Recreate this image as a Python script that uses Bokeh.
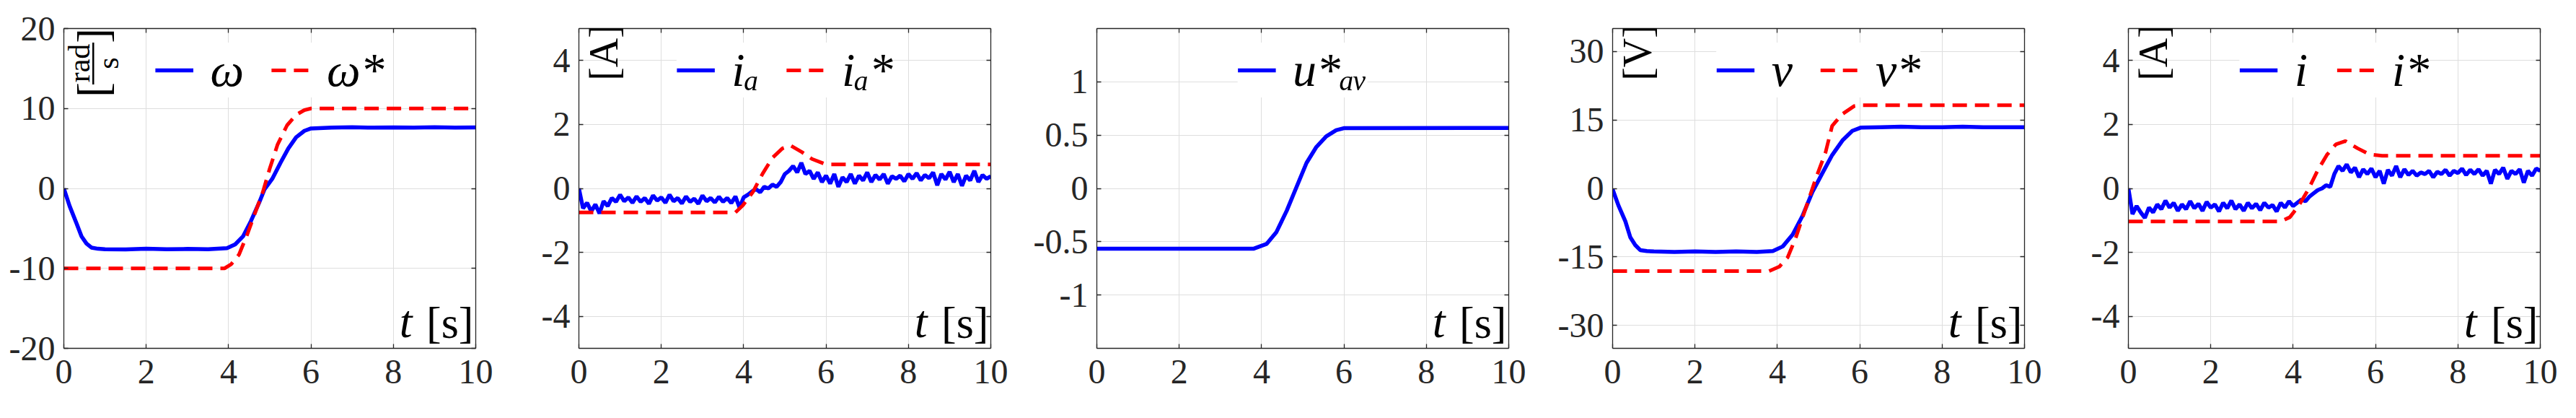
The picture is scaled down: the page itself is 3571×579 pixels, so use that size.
from bokeh.plotting import figure
from bokeh.layouts import row
from bokeh.models import (FixedTicker, LinearAxis, Range1d, Legend, LegendItem,
                          Label, BoxAnnotation)
from bokeh.embed import file_html
from bokeh.resources import INLINE

# ---------------- data ----------------
x_ticks = [0, 2, 4, 6, 8, 10]

# panel 1: omega [rad/s]
t_w = [0, 0.14, 0.31, 0.43, 0.55, 0.67, 0.83, 1.0, 1.5, 2.0, 2.5, 3.0, 3.5, 3.96, 4.16, 4.35,
       4.54, 4.74, 4.87, 5.06, 5.26, 5.45, 5.64, 5.84, 6.0, 6.5, 7.0, 7.5, 8.0, 8.5, 9.0, 9.5, 10.0]
w = [0, -2.2, -4.4, -6.0, -6.9, -7.4, -7.55, -7.6, -7.62, -7.55, -7.6, -7.57, -7.6, -7.47, -7.0, -6.0,
     -4.1, -1.8, -0.13, 1.2, 3.2, 5.0, 6.4, 7.2, 7.5, 7.6, 7.65, 7.6, 7.62, 7.6, 7.65, 7.6, 7.62]
t_wr = [0, 3.9, 4.06, 4.25, 4.45, 4.64, 4.83, 5.0, 5.19, 5.42, 5.64, 5.84, 6.0, 10]
wr = [-10, -10, -9.5, -8.3, -5.8, -3.1, -0.47, 2.5, 5.5, 7.9, 9.2, 9.8, 10, 10]

# panel 2: i_a [A]
t_ia = [round(0.1 * k, 1) for k in range(101)]
ia = [0.0, -0.62, -0.45, -0.72, -0.50, -0.78, -0.40, -0.55, -0.30, -0.42,
      -0.20, -0.40, -0.28, -0.45, -0.25, -0.42, -0.30, -0.48, -0.22, -0.38,
      -0.28, -0.45, -0.20, -0.40, -0.30, -0.47, -0.25, -0.42, -0.32, -0.48,
      -0.22, -0.40, -0.30, -0.44, -0.26, -0.42, -0.30, -0.46, -0.25, -0.60,
      -0.28, -0.20, -0.10, -0.02, -0.12, 0.05, 0.00, 0.12, 0.05, 0.20,
      0.45, 0.55, 0.70, 0.50, 0.80, 0.45, 0.55, 0.30, 0.50, 0.20,
      0.40, 0.15, 0.45, 0.05, 0.35, 0.20, 0.45, 0.15, 0.40, 0.25,
      0.50, 0.20, 0.42, 0.28, 0.45, 0.15, 0.38, 0.30, 0.40, 0.22,
      0.45, 0.30, 0.48, 0.25, 0.42, 0.32, 0.50, 0.10, 0.45, 0.28,
      0.52, 0.20, 0.45, 0.08, 0.40, 0.25, 0.55, 0.20, 0.42, 0.30, 0.38]
t_iar = [0, 3.8, 3.98, 4.22, 4.46, 4.7, 4.94, 5.14, 5.42, 5.66, 5.94, 6.1, 10]
iar = [-0.75, -0.75, -0.53, -0.12, 0.46, 0.96, 1.25, 1.34, 1.13, 0.92, 0.78, 0.75, 0.75]

# panel 3: u*_av
t_u = [0, 3.8, 4.12, 4.36, 4.61, 4.85, 5.09, 5.33, 5.57, 5.81, 6.01, 10]
u = [-0.566, -0.566, -0.521, -0.409, -0.209, 0.015, 0.239, 0.389, 0.489, 0.546, 0.566, 0.568]

# panel 4: v [V]
t_v = [0, 0.14, 0.31, 0.43, 0.55, 0.67, 0.83, 1.0, 1.5, 2.0, 2.5, 3.0, 3.5, 3.89, 4.13, 4.37,
       4.61, 4.85, 5.09, 5.33, 5.58, 5.82, 6.02, 6.5, 7.0, 7.5, 8.0, 8.5, 9.0, 9.5, 10.0]
v = [-0.2, -3.7, -7.2, -10.7, -12.4, -13.5, -13.7, -13.8, -13.9, -13.8, -13.9, -13.8, -13.9, -13.7, -12.7, -10.1,
     -6.0, -0.8, 3.3, 7.3, 10.5, 12.6, 13.3, 13.4, 13.5, 13.4, 13.4, 13.5, 13.4, 13.4, 13.4]
t_vr = [0, 3.8, 4.05, 4.25, 4.45, 4.69, 4.93, 5.17, 5.33, 5.58, 5.86, 6.0, 10]
vr = [-18.1, -18.1, -17.1, -15.1, -10.7, -4.3, 2.1, 7.9, 13.7, 16.3, 18.0, 18.2, 18.2]

# panel 5: i [A]
t_i = [round(0.1 * k, 1) for k in range(101)]
i_m = [0.0, -0.80, -0.55, -0.75, -0.92, -0.60, -0.75, -0.50, -0.65, -0.38,
       -0.60, -0.45, -0.70, -0.50, -0.65, -0.40, -0.62, -0.48, -0.70, -0.42,
       -0.60, -0.50, -0.72, -0.45, -0.62, -0.38, -0.65, -0.50, -0.70, -0.45,
       -0.62, -0.48, -0.68, -0.45, -0.60, -0.52, -0.72, -0.45, -0.60, -0.40,
       -0.55, -0.45, -0.35, -0.40, -0.25, -0.15, -0.05, 0.00, 0.10, 0.05,
       0.45, 0.70, 0.55, 0.75, 0.50, 0.65, 0.35, 0.60, 0.45, 0.62,
       0.35, 0.55, 0.15, 0.58, 0.40, 0.70, 0.35, 0.60, 0.42, 0.55,
       0.40, 0.50, 0.45, 0.55, 0.35, 0.52, 0.45, 0.58, 0.40, 0.55,
       0.48, 0.62, 0.42, 0.58, 0.45, 0.60, 0.40, 0.55, 0.15, 0.58,
       0.45, 0.65, 0.30, 0.55, 0.45, 0.60, 0.18, 0.55, 0.40, 0.62, 0.55]
t_ir = [0, 3.7, 3.92, 4.14, 4.37, 4.59, 4.82, 5.04, 5.27, 5.57, 5.86, 6.16, 10]
i_r = [-1.03, -1.03, -0.9, -0.53, -0.03, 0.55, 1.05, 1.38, 1.48, 1.25, 1.06, 1.02, 1.02]

panels = [
    dict(yr=(-20, 20), yt=[-20, -10, 0, 10, 20], yl=["-20", "-10", "0", "10", "20"],
         meas=(t_w, w, "ω"), ref=(t_wr, wr, "ω*"), unit="rad/s", L=88, R=55),
    dict(yr=(-5, 5), yt=[-4, -2, 0, 2, 4], yl=["-4", "-2", "0", "2", "4"],
         meas=(t_ia, ia, "iₐ"), ref=(t_iar, iar, "iₐ*"), unit="[A]", L=88, R=56),
    dict(yr=(-1.5, 1.5), yt=[-1, -0.5, 0, 0.5, 1], yl=["-1", "-0.5", "0", "0.5", "1"],
         meas=(t_u, u, "u*ₐᵥ"), ref=None, unit=None, L=88, R=56),
    dict(yr=(-35, 35), yt=[-30, -15, 0, 15, 30], yl=["-30", "-15", "0", "15", "30"],
         meas=(t_v, v, "v"), ref=(t_vr, vr, "v*"), unit="[V]", L=88, R=56),
    dict(yr=(-5, 5), yt=[-4, -2, 0, 2, 4], yl=["-4", "-2", "0", "2", "4"],
         meas=(t_i, i_m, "i"), ref=(t_ir, i_r, "i*"), unit="[A]", L=88, R=30),
]

FW, FH = 571, 443
FONT = "Liberation Serif"
AX = "#262626"


def make_panel(cfg):
    y0, y1 = cfg["yr"]
    p = figure(frame_width=FW, frame_height=FH, x_range=Range1d(0, 10), y_range=Range1d(y0, y1),
               output_backend="svg", toolbar_location=None,
               min_border_left=cfg["L"], min_border_right=cfg["R"],
               min_border_top=39, min_border_bottom=80,
               background_fill_color="white", border_fill_color="white")
    p.outline_line_color = None

    def px2x(dx):
        return dx / FW * 10.0

    def py2y(dy):
        return y1 - dy / FH * (y1 - y0)

    overrides = {tk: lab for tk, lab in zip(cfg["yt"], cfg["yl"])}
    for ax in p.xaxis:
        ax.ticker = FixedTicker(ticks=x_ticks)
    for ax in p.yaxis:
        ax.ticker = FixedTicker(ticks=cfg["yt"])
        ax.major_label_overrides = overrides
    for ax in list(p.xaxis) + list(p.yaxis):
        ax.major_tick_in = 6
        ax.major_tick_out = 0
        ax.minor_tick_line_color = None
        ax.axis_line_color = AX
        ax.axis_line_width = 1.3
        ax.major_tick_line_color = AX
        ax.major_tick_line_width = 1.3
        ax.major_label_text_font = FONT
        ax.major_label_text_font_size = "48px"
        ax.major_label_text_color = AX
    p.xaxis.major_label_standoff = 16
    p.yaxis.major_label_standoff = 12

    top = LinearAxis(ticker=FixedTicker(ticks=x_ticks), major_tick_in=6, major_tick_out=0,
                     minor_tick_line_color=None, axis_line_color=AX, axis_line_width=1.3,
                     major_tick_line_color=AX, major_tick_line_width=1.3,
                     major_label_text_color=None, major_label_standoff=0)
    right = LinearAxis(ticker=FixedTicker(ticks=cfg["yt"]), major_tick_in=6, major_tick_out=0,
                       minor_tick_line_color=None, axis_line_color=AX, axis_line_width=1.3,
                       major_tick_line_color=AX, major_tick_line_width=1.3,
                       major_label_text_color=None, major_label_standoff=0)
    p.add_layout(top, "above")
    p.add_layout(right, "right")

    p.xgrid.ticker = FixedTicker(ticks=x_ticks)
    p.ygrid.ticker = FixedTicker(ticks=cfg["yt"])
    p.grid.grid_line_color = "#dedede"
    p.grid.grid_line_width = 1

    items = []
    mt, mv, ml = cfg["meas"]
    rm = p.line(mt, mv, line_color="#0000ff", line_width=5.5)
    items.append(LegendItem(label=ml, renderers=[rm]))
    if cfg["ref"] is not None:
        rt, rv, rl = cfg["ref"]
        rr = p.line(rt, rv, line_color="#ff0000", line_width=5, line_dash="20 11")
        items.append(LegendItem(label=rl, renderers=[rr]))

    leg = Legend(items=items, location="top_center", orientation="horizontal",
                 background_fill_color="white", background_fill_alpha=1.0,
                 border_line_color=None, margin=20, padding=6, spacing=38,
                 glyph_width=53, glyph_height=40, label_standoff=24, label_height=40,
                 label_text_font=FONT, label_text_font_style="italic",
                 label_text_font_size="66px", label_text_color="black")
    p.add_layout(leg)

    # time label
    p.add_layout(Label(x=px2x(FW - 3), y=py2y(FH - 2), text="[s]", text_align="right",
                       text_baseline="bottom", text_font=FONT, text_font_size="62px",
                       text_color="black"))
    p.add_layout(Label(x=px2x(FW - 88), y=py2y(FH - 2), text="t", text_align="right",
                       text_baseline="bottom", text_font=FONT, text_font_style="italic",
                       text_font_size="64px", text_color="black"))

    # unit label (rotated)
    unit = cfg["unit"]
    rot = 1.5707963
    if unit == "rad/s":
        p.add_layout(Label(x=px2x(40), y=py2y(85), text="[", angle=rot, text_align="center",
                           text_baseline="middle", text_font=FONT, text_font_size="62px",
                           text_color="black"))
        p.add_layout(Label(x=px2x(40), y=py2y(10), text="]", angle=rot, text_align="center",
                           text_baseline="middle", text_font=FONT, text_font_size="62px",
                           text_color="black"))
        p.add_layout(Label(x=px2x(21), y=py2y(48), text="rad", angle=rot, text_align="center",
                           text_baseline="middle", text_font=FONT, text_font_size="42px",
                           text_color="black"))
        p.add_layout(Label(x=px2x(61), y=py2y(48), text="s", angle=rot, text_align="center",
                           text_baseline="middle", text_font=FONT, text_font_size="42px",
                           text_color="black"))
        p.add_layout(BoxAnnotation(left=px2x(39.5), right=px2x(42), top=py2y(19.5),
                                   bottom=py2y(77.5), fill_color="black", fill_alpha=1.0,
                                   line_color=None))
    elif unit is not None:
        p.add_layout(Label(x=px2x(34), y=py2y(33.5), text=unit, angle=rot, text_align="center",
                           text_baseline="middle", text_font=FONT, text_font_size="56px",
                           text_color="black"))
    return p


figs = [make_panel(c) for c in panels]
layout = row(*figs, spacing=0)
open("out.html", "w").write(file_html(layout, INLINE))
